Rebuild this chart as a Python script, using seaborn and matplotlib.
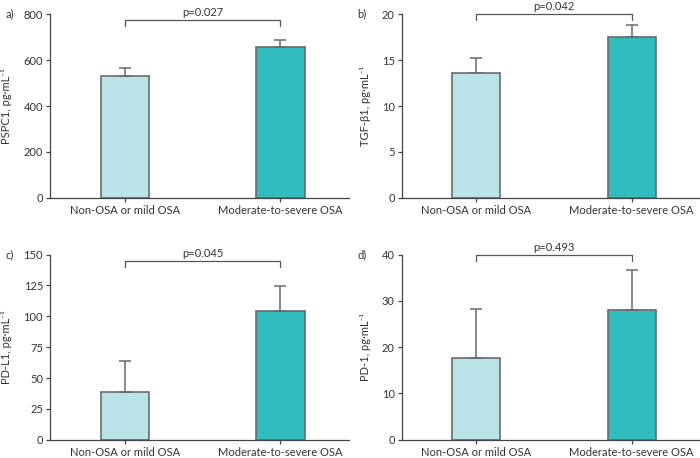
"""
Bar charts of serum markers by OSA severity
"""

import matplotlib

matplotlib.use("Agg")
import matplotlib.pyplot as plt
import pandas as pd
import seaborn as sns

groups = ["Non-OSA or mild OSA", "Moderate-to-severe OSA"]

pspc1_mean = [531, 655]
pspc1_err = [35, 33]
tgf_mean = [13.55, 17.45]
tgf_err = [1.7, 1.35]
pdl1_mean = [38.5, 104]
pdl1_err = [25.2, 20.3]
pd1_mean = [17.6, 28.1]
pd1_err = [10.6, 8.5]

p_values = ["p=0.027", "p=0.042", "p=0.045", "p=0.493"]
y_labels = ["PSPC1, pg·mL⁻¹", "TGF-β1, pg·mL⁻¹", "PD-L1, pg·mL⁻¹", "PD-1, pg·mL⁻¹"]
y_limits = [800, 20, 150, 40]
y_steps = [200, 5, 25, 10]
bracket_tops = [774, 20, 145, 40]
panel_names = ["a)", "b)", "c)", "d)"]

bar_colors = ["#b9e3e6", "#31bcbf"]

sns.set_style("ticks")
plt.rcParams["font.family"] = ["Lato", "DejaVu Sans"]
plt.rcParams["font.size"] = 8


def draw_panel(ax, means, errs, ymax, step, ylabel, ptext, panel, top):
    df = pd.DataFrame({"group": groups, "value": means})
    sns.barplot(
        data=df, x="group", y="value", hue="group", palette=bar_colors,
        saturation=1, width=0.31, edgecolor="#6a6a6a", linewidth=1.2,
        legend=False, ax=ax,
    )
    # upper error bars only
    ax.errorbar(
        [0, 1], means, yerr=[[0, 0], errs], fmt="none", ecolor="#6a6a6a",
        elinewidth=1.1, capsize=4, capthick=1.1, zorder=1,
    )
    ax.set_xlim(-0.48, 1.44)
    ax.set_ylim(0, ymax)
    ax.set_yticks(range(0, int(ymax) + 1, step))
    ax.set_xlabel("")
    ax.set_ylabel(ylabel, color="#333333", labelpad=8)
    ax.tick_params(colors="#444444", labelcolor="#333333", length=3,
                   width=0.9, pad=2)
    for side in ["left", "bottom"]:
        ax.spines[side].set_color("#444444")
        ax.spines[side].set_linewidth(0.9)
    sns.despine(ax=ax)

    # significance bracket
    drop = ymax * 0.035
    ax.plot([0, 0, 1, 1], [top - drop, top, top, top - drop], color="#555555",
            linewidth=0.9, clip_on=False)
    ax.annotate(ptext, (0.5, top), xytext=(0, 1.5), textcoords="offset points",
                ha="center", va="bottom", color="#333333", fontsize=8,
                annotation_clip=False)
    ax.text(-0.15, 1.0, panel, transform=ax.transAxes, ha="left", va="center",
            color="#333333", fontsize=8)


fig = plt.figure(figsize=(7, 4.58), dpi=100)
axes = [
    fig.add_axes([0.0714, 0.5677, 0.427, 0.4017]),
    fig.add_axes([0.574, 0.5677, 0.426, 0.4017]),
    fig.add_axes([0.0714, 0.040, 0.427, 0.4040]),
    fig.add_axes([0.574, 0.040, 0.426, 0.4040]),
]
data = [
    (pspc1_mean, pspc1_err),
    (tgf_mean, tgf_err),
    (pdl1_mean, pdl1_err),
    (pd1_mean, pd1_err),
]
for i, ax in enumerate(axes):
    draw_panel(ax, data[i][0], data[i][1], y_limits[i], y_steps[i],
               y_labels[i], p_values[i], panel_names[i], bracket_tops[i])

fig.savefig("out.png", dpi=100)
plt.close(fig)
